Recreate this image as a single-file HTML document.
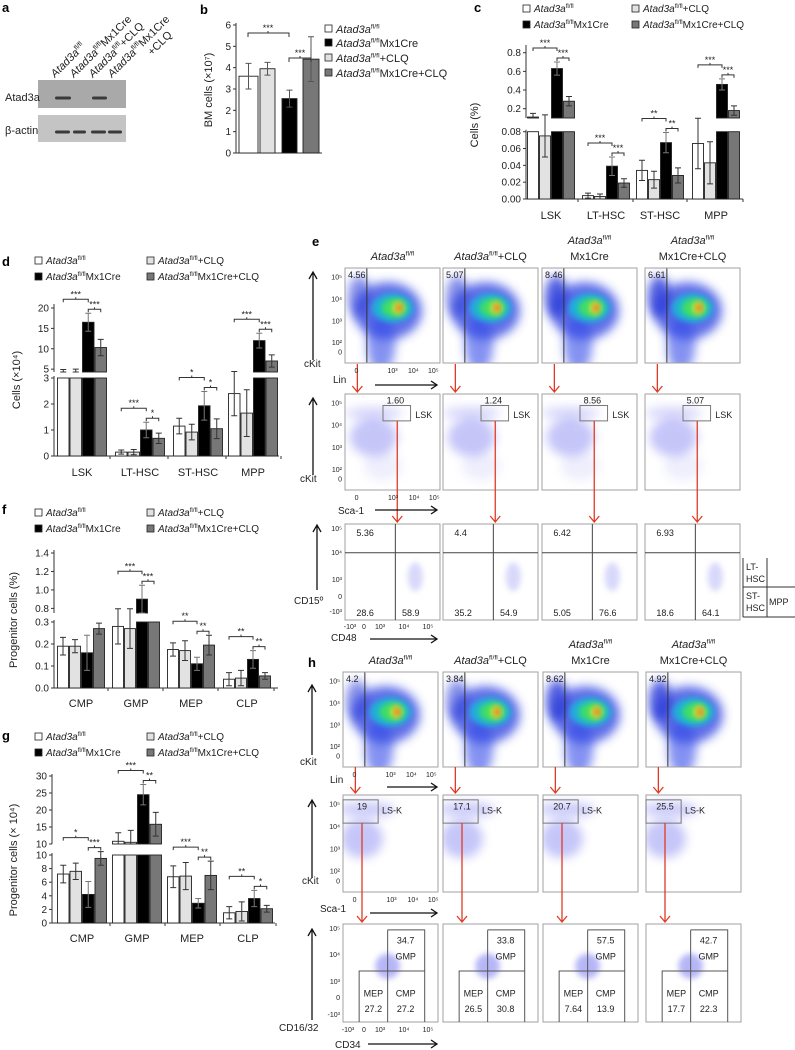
<!DOCTYPE html>
<html><head><meta charset="utf-8"><style>
html,body{margin:0;padding:0;background:#fff;}
svg{display:block;font-family:"Liberation Sans",sans-serif;}
</style></head><body>
<svg id="fig" width="795" height="1050" viewBox="0 0 795 1050">
<defs>
<filter id="blur3" x="-50%" y="-50%" width="200%" height="200%"><feGaussianBlur stdDeviation="3"/></filter>
<filter id="blur5" x="-50%" y="-50%" width="200%" height="200%"><feGaussianBlur stdDeviation="5"/></filter>
</defs>
</svg>
<script>
// ---------------- DATA ----------------
const bCategories = ['fl/fl','fl/fl Mx1Cre','fl/fl +CLQ','fl/fl Mx1Cre+CLQ'];
const bValues = [3.6, 3.95, 2.55, 4.4];
const bErrors = [0.6, 0.3, 0.4, 1.05];
const bYTicks = [0,1,2,3,4,5,6];

const cGroups = ['LSK','LT-HSC','ST-HSC','MPP'];
const cWT = [0.11, 0.004, 0.034, 0.066];
const cWTCLQ = [0.075, 0.003, 0.023, 0.043];
const cKO = [0.63, 0.039, 0.067, 0.46];
const cKOCLQ = [0.28, 0.019, 0.028, 0.18];
const cErrWT = [0.04, 0.003, 0.012, 0.03];
const cErrWTCLQ = [0.025, 0.003, 0.01, 0.025];
const cErrKO = [0.07, 0.011, 0.012, 0.06];
const cErrKOCLQ = [0.05, 0.005, 0.009, 0.05];
const cStars = [['***','***'],['***','***'],['**','**'],['***','***']];
const cTopTicks = [0.2,0.4,0.6,0.8];
const cBotTicks = [0,0.02,0.04,0.06,0.08];

const dGroups = ['LSK','LT-HSC','ST-HSC','MPP'];
const dWT = [4.1, 0.15, 1.15, 2.4];
const dWTCLQ = [3.5, 0.15, 0.92, 1.65];
const dKO = [16.5, 1.0, 1.93, 12.0];
const dKOCLQ = [10.3, 0.68, 1.05, 7.0];
const dErrWT = [0.8, 0.08, 0.3, 0.85];
const dErrWTCLQ = [1.5, 0.1, 0.3, 0.9];
const dErrKO = [2.2, 0.3, 0.55, 1.8];
const dErrKOCLQ = [2.0, 0.2, 0.38, 1.5];
const dStars = [['***','***'],['***','*'],['*','*'],['***','***']];
const dTopTicks = [5,10,15,20];
const dBotTicks = [0,1,2,3];

const fGroups = ['CMP','GMP','MEP','CLP'];
const fWT = [0.19, 0.28, 0.175, 0.04];
const fWTCLQ = [0.19, 0.27, 0.17, 0.045];
const fKO = [0.16, 0.9, 0.11, 0.13];
const fKOCLQ = [0.27, 0.5, 0.195, 0.055];
const fErrWT = [0.04, 0.08, 0.03, 0.03];
const fErrWTCLQ = [0.03, 0.09, 0.045, 0.035];
const fErrKO = [0.08, 0.15, 0.03, 0.04];
const fErrKOCLQ = [0.025, 0, 0.045, 0.015];
const fStars = [['',''],['***','***'],['**','**'],['**','**']];
const fTopTicks = [0.8,1.0,1.2,1.4];
const fBotTicks = [0,0.1,0.2,0.3];

const gGroups = ['CMP','GMP','MEP','CLP'];
const gWT = [7.2, 10.8, 6.8, 1.5];
const gWTCLQ = [7.6, 10.5, 6.9, 1.7];
const gKO = [4.2, 24.5, 2.9, 3.6];
const gKOCLQ = [9.5, 15.8, 7.0, 2.1];
const gErrWT = [1.3, 2.5, 1.6, 0.9];
const gErrWTCLQ = [1.2, 3.5, 2.0, 1.4];
const gErrKO = [1.9, 3.0, 0.7, 1.2];
const gErrKOCLQ = [1.0, 3.5, 2.1, 0.5];
const gStars = [['*','***'],['***','**'],['***','**'],['**','*']];
const gTopTicks = [10,15,20,25,30];
const gBotTicks = [0,2,4,6,8,10];

const eRow1 = ['4.56','5.07','8.46','6.61'];
const eRow2 = ['1.60','1.24','8.56','5.07'];
const eQ1 = ['5.36','4.4','6.42','6.93'];
const eQ3 = ['28.6','35.2','5.05','18.6'];
const eQ4 = ['58.9','54.9','76.6','64.1'];
const hRow1 = ['4.2','3.84','8.62','4.92'];
const hRow2 = ['19','17.1','20.7','25.5'];
const hGMP = ['34.7','33.8','57.5','42.7'];
const hMEP = ['27.2','26.5','7.64','17.7'];
const hCMP = ['27.2','30.8','13.9','22.3'];

// ---------------- HELPERS ----------------
const NS='http://www.w3.org/2000/svg';
const svg=document.getElementById('fig');
function el(tag,attrs,parent){const e=document.createElementNS(NS,tag);for(const k in attrs)e.setAttribute(k,attrs[k]);(parent||svg).appendChild(e);return e;}
function txt(x,y,s,size,anchor,extra){const t=el('text',Object.assign({x:x,y:y,'font-size':size,'text-anchor':anchor||'start',fill:'#222'},extra||{}));t.textContent=s;


return t;}
function atad(x,y,suffix,size,anchor,extra){
  const t=el('text',Object.assign({x:x,y:y,'font-size':size,'text-anchor':anchor||'start',fill:'#222'},extra||{}));
  
  
  const a=el('tspan',{'font-style':'italic'},t);a.textContent='Atad3a';
  const b=el('tspan',{'font-size':size*0.62,dy:-size*0.4},t);b.textContent='fl/fl';
  const c=el('tspan',{dy:size*0.4},t);c.textContent=suffix;
  return t;
}
const FILLS=['#ffffff','#e2e2e2','#000000','#777777'];
function legend(x1,x2,y1,y2,size){
  const items=[[x1,y1,0,''],[x2,y1,1,'+CLQ'],[x1,y2,2,'Mx1Cre'],[x2,y2,3,'Mx1Cre+CLQ']];
  items.forEach(it=>{
    const r=el('rect',{x:it[0],y:it[1]-7,width:7,height:7,fill:FILLS[it[2]],stroke:'#222','stroke-width':0.8});
    
    
    atad(it[0]+11,it[1],it[3],size);
  });
}
function lin(s,v){return s.y0+(v-s.v0)/(s.v1-s.v0)*(s.y1-s.y0);}

function drawChart(cfg,groups,series,errs,stars){
  const g=el('g',{});
  
  
  const bot=cfg.bot, top=cfg.top;
  const ax=el('line',{x1:cfg.axisX,y1:bot.y0,x2:cfg.axisX,y2:bot.y1-2,stroke:'#333','stroke-width':1},g);
  
  
  const xa=el('line',{x1:cfg.axisX,y1:bot.y0,x2:cfg.xEnd,y2:bot.y0,stroke:'#333','stroke-width':1},g);
  
  
  cfg.botTicks.forEach(v=>{const y=lin(bot,v);
    const tk=el('line',{x1:cfg.axisX-3,y1:y,x2:cfg.axisX,y2:y,stroke:'#333'},g);
    
    
    txt(cfg.axisX-5,y+3.5,cfg.fmt(v),10,'end');});
  if(top){
    const ax2=el('line',{x1:cfg.axisX,y1:top.y0,x2:cfg.axisX,y2:top.yEnd,stroke:'#333','stroke-width':1},g);
    
    
    cfg.topTicks.forEach(v=>{const y=lin(top,v);
      const tk=el('line',{x1:cfg.axisX-3,y1:y,x2:cfg.axisX,y2:y,stroke:'#333'},g);
      
      
      txt(cfg.axisX-5,y+3.5,cfg.fmtTop(v),10,'end');});
  }
  const yl=txt(0,0,cfg.ylabel,11,'middle',{transform:`translate(${cfg.ylabelX},${cfg.ylabelY}) rotate(-90)`});
  
  groups.forEach((gname,gi)=>{
    const gx=cfg.groupX[gi];
    txt(gx+2*cfg.barW,cfg.labelY,gname,11,'middle');
    const tk=el('line',{x1:gx+4*cfg.barW+cfg.gapX/2,y1:bot.y0,x2:gx+4*cfg.barW+cfg.gapX/2,y2:bot.y0+3,stroke:'#333'},g);
    
    
    const tops=[];
    for(let s=0;s<series.length;s++){
      const v=series[s][gi], e=errs[s][gi];
      const x=gx+s*cfg.barW;
      const vb=Math.min(v,bot.v1);
      const yb=lin(bot,vb);
      const r=el('rect',{x:x+0.5,y:yb,width:cfg.barW-1,height:bot.y0-yb,fill:FILLS[s],stroke:'#222','stroke-width':0.9},g);
      
      
      let seg=bot;
      if(top && v>bot.v1){
        if(v>top.v0){
          const yt=lin(top,v);
          const r2=el('rect',{x:x+0.5,y:yt,width:cfg.barW-1,height:top.y0-yt,fill:FILLS[s],stroke:'#222','stroke-width':0.9},g);
          
          
        }
        seg=top;
      }
      const cx=x+cfg.barW/2;
      let yv=lin(seg,v), yhi=lin(seg,v+e), ylo=lin(seg,v-e);
      if(seg===top){ylo=Math.min(ylo,top.y0);}
      if(e>0){
        const eb=el('path',{d:`M${cx},${ylo}V${yhi}M${cx-3},${yhi}H${cx+3}M${cx-3},${ylo}H${cx+3}`,stroke:s===2?'#777':'#333','stroke-width':1,fill:'none'},g);
        
        
      }
      tops.push(Math.min(yhi,yv));
    }
    const st=stars[gi];
    const c0=gx+cfg.barW*0.5, c2=gx+cfg.barW*2.5, c3=gx+cfg.barW*3.5;
    const y2=Math.min(tops[2],tops[3])-4;
    const y1=Math.min(y2-10,Math.min(tops[0],tops[1])-6);
    if(st[1]){
      const br=el('path',{d:`M${c2},${y2+3}V${y2}H${c3}V${y2+3}M${(c2+c3)/2},${y2}V${y2-2}`,stroke:'#333',fill:'none','stroke-width':1},g);
      
      
      txt((c2+c3)/2,y2-2,st[1],9,'middle');
    }
    if(st[0]){
      const br=el('path',{d:`M${c0},${y1+3}V${y1}H${c2}V${y1+3}M${(c0+c2)/2},${y1}V${y1-2}`,stroke:'#333',fill:'none','stroke-width':1},g);
      
      
      txt((c0+c2)/2,y1-2,st[0],9,'middle');
    }
  });
}

// ---------------- PANEL A ----------------
txt(2,12,'a',13,'start',{'font-weight':'bold',fill:'#000'});
[[55,''],[74,'Mx1Cre'],[93,'+CLQ'],[112,'Mx1Cre']].forEach(p=>{atad(p[0],78,p[1],11,'start',{transform:`rotate(-45 ${p[0]} 78)`});});
txt(152,56,'+CLQ',11,'start',{transform:'rotate(-45 152 56)'});
const blot1=el('rect',{x:38,y:80,width:88,height:28,fill:'#a9a9a9'});


const blot2=el('rect',{x:38,y:115,width:88,height:27,fill:'#c4c4c4'});


[[55,98,16],[92,98,15],[55,132,15],[73,132,13],[91,132,15],[108,132,14]].forEach(b=>{
  const band=el('rect',{x:b[0],y:b[1]-1.5,width:b[2],height:3,rx:1.5,fill:'#3a3a3a'});
  
  
});
txt(5,101,'Atad3a',11);
txt(5,134,'β-actin',11);

// ---------------- PANEL B ----------------
txt(200,14,'b',13,'start',{'font-weight':'bold',fill:'#000'});
drawChart({name:'chart-b',axisX:236,xEnd:322,groupX:[240],barW:0,gapX:0,bot:{v0:0,v1:6,y0:153,y1:25},top:null,botTicks:bYTicks,fmt:v=>String(v),ylabel:'',ylabelX:0,ylabelY:0,labelY:-50},[],[],[],[]);
(function(){
  const xs=[239,260,282,303], ws=[19,15,15,16];
  const s={v0:0,v1:6,y0:153,y1:25};
  bValues.forEach((v,i)=>{
    const y=lin(s,v);
    const r=el('rect',{x:xs[i],y:y,width:ws[i],height:153-y,fill:FILLS[i],stroke:'#222','stroke-width':0.9});
    
    
    const cx=xs[i]+ws[i]/2, yh=lin(s,v+bErrors[i]), yl=lin(s,v-bErrors[i]);
    const eb=el('path',{d:`M${cx},${yl}V${yh}M${cx-3},${yh}H${cx+3}M${cx-3},${yl}H${cx+3}`,stroke:'#555',fill:'none'});
    
    
  });
  const br1=el('path',{d:'M248,37V33H289V37M268,33V31',stroke:'#333',fill:'none'});
  
  
  txt(268,31,'***',9,'middle');
  const br2=el('path',{d:'M289,62V58H311V62M300,58V56',stroke:'#333',fill:'none'});
  
  
  txt(300,56,'***',9,'middle');
  const yl=txt(0,0,'BM cells (×10⁷)',11,'middle',{transform:'translate(212,90) rotate(-90)'});
  
  [[32,0,''],[46,2,'Mx1Cre'],[61,1,'+CLQ'],[76,3,'Mx1Cre+CLQ']].forEach(it=>{
    const r=el('rect',{x:325,y:it[0]-7,width:7,height:7,fill:FILLS[it[1]],stroke:'#222','stroke-width':0.8});
    
    
    atad(336,it[0]+1,it[2],11);
  });
})();

// ---------------- PANEL C ----------------
txt(474,12,'c',13,'start',{'font-weight':'bold',fill:'#000'});
legend(523,632,12,28,10);
drawChart({name:'chart-c',axisX:526,xEnd:743,groupX:[527,582,636,692],barW:12,gapX:6,
  bot:{v0:0,v1:0.08,y0:199,y1:131.7},top:{v0:0.1,v1:0.8,y0:118,y1:52.7,yEnd:45},
  botTicks:cBotTicks,topTicks:cTopTicks,fmt:v=>v.toFixed(2),fmtTop:v=>v.toFixed(1),
  ylabel:'Cells (%)',ylabelX:478,ylabelY:125,labelY:219},
  cGroups,[cWT,cWTCLQ,cKO,cKOCLQ],[cErrWT,cErrWTCLQ,cErrKO,cErrKOCLQ],cStars);

// ---------------- PANEL D ----------------
txt(2,266,'d',13,'start',{'font-weight':'bold',fill:'#000'});
legend(35,147,264,280,10);
drawChart({name:'chart-d',axisX:54,xEnd:279,groupX:[57,115,173,228],barW:12.5,gapX:6,
  bot:{v0:0,v1:3,y0:456,y1:378},top:{v0:4.3,v1:20,y0:372,y1:308,yEnd:304},
  botTicks:dBotTicks,topTicks:dTopTicks,fmt:v=>String(v),fmtTop:v=>String(v),
  ylabel:'Cells (×10⁴)',ylabelX:20,ylabelY:380,labelY:476},
  dGroups,[dWT,dWTCLQ,dKO,dKOCLQ],[dErrWT,dErrWTCLQ,dErrKO,dErrKOCLQ],dStars);

// ---------------- PANEL F ----------------
txt(2,514,'f',13,'start',{'font-weight':'bold',fill:'#000'});
legend(35,147,516,532,10);
drawChart({name:'chart-f',axisX:54,xEnd:278,groupX:[57,112,167,223],barW:12,gapX:6,
  bot:{v0:0,v1:0.3,y0:688,y1:622},top:{v0:0.75,v1:1.4,y0:613,y1:553,yEnd:550},
  botTicks:fBotTicks,topTicks:fTopTicks,fmt:v=>v.toFixed(1),fmtTop:v=>v.toFixed(1),
  ylabel:'Progenitor cells (%)',ylabelX:17,ylabelY:620,labelY:707},
  fGroups,[fWT,fWTCLQ,fKO,fKOCLQ],[fErrWT,fErrWTCLQ,fErrKO,fErrKOCLQ],fStars);

// ---------------- PANEL G ----------------
txt(2,740,'g',13,'start',{'font-weight':'bold',fill:'#000'});
legend(35,147,740,756,10);
drawChart({name:'chart-g',axisX:52,xEnd:275,groupX:[57,112,167,223],barW:12.5,gapX:6,
  bot:{v0:0,v1:10,y0:923,y1:855},top:{v0:10,v1:30,y0:844,y1:776,yEnd:774},
  botTicks:gBotTicks,topTicks:gTopTicks,fmt:v=>String(v),fmtTop:v=>String(v),
  ylabel:'Progenitor cells (× 10⁴)',ylabelX:17,ylabelY:860,labelY:942},
  gGroups,[gWT,gWTCLQ,gKO,gKOCLQ],[gErrWT,gErrWTCLQ,gErrKO,gErrKOCLQ],gStars);

// ---------------- FLOW PANELS ----------------
function blob(g,cx,cy,rx,ry,fill,op,f){const e=el('ellipse',{cx:cx,cy:cy,rx:rx,ry:ry,fill:fill,opacity:op,filter:'url(#'+(f||'blur3')+')'},g);

return e;}
function frame(x,y,w,h,name){
  const g=el('g',{});
  
  
  const cp=el('clipPath',{id:'cp'+name},g);el('rect',{x:x,y:y,width:w,height:h},cp);
  const inner=el('g',{'clip-path':'url(#cp'+name+')'},g);
  return [g,inner];
}
function border(g,x,y,w,h){const b=el('rect',{x:x,y:y,width:w,height:h,fill:'none',stroke:'#a0a0a0','stroke-width':1},g);

}
function linPlot(x,y,w,h,label,name,strong){
  const [g,i]=frame(x,y,w,h,name);
  blob(i,x+w*0.45,y+h*0.45,w*0.36,h*0.3,'#2a40e0',0.75,'blur5');
  blob(i,x+w*0.38,y+h*0.8,w*0.15,h*0.3,'#3048e8',0.6,'blur5');
  blob(i,x+w*0.15,y+h*0.3,w*0.12,h*0.22,'#2838d8',strong?0.8:0.55,'blur5');
  blob(i,x+w*0.5,y+h*0.42,w*0.22,h*0.15,'#18b8d8',0.9);
  blob(i,x+w*0.52,y+h*0.42,w*0.14,h*0.1,'#40e060',0.95);
  blob(i,x+w*0.56,y+h*0.42,w*0.06,h*0.07,'#e8e030',0.95,'blur3');
  blob(i,x+w*0.57,y+h*0.42,w*0.025,h*0.04,'#f04020',0.9,'blur3');
  const gl=el('line',{x1:x+w*0.23,y1:y,x2:x+w*0.23,y2:y+h,stroke:'#333','stroke-width':1},g);
  
  
  border(g,x,y,w,h);
  txt(x+3,y+10,label,9,'start');
}
function lskPlot(x,y,w,h,label,name){
  const [g,i]=frame(x,y,w,h,name);
  blob(i,x+w*0.3,y+h*0.45,w*0.25,h*0.2,'#7070f0',0.4,'blur5');
  blob(i,x+w*0.3,y+h*0.2,w*0.3,h*0.07,'#8080f0',0.3,'blur5');
  blob(i,x+w*0.4,y+h*0.75,w*0.2,h*0.15,'#9090f0',0.15,'blur5');
  border(g,x,y,w,h);
  const r=el('rect',{x:x+w*0.4,y:y+h*0.12,width:w*0.29,height:h*0.16,fill:'none',stroke:'#777'},g);
  
  
  txt(x+w*0.53,y+h*0.1,label,9,'middle');
  txt(x+w*0.74,y+h*0.25,'LSK',9,'start');
}
function quadPlot(x,y,w,h,q1,q3,q4,name){
  const [g,i]=frame(x,y,w,h,name);
  blob(i,x+w*0.74,y+h*0.55,w*0.08,h*0.15,'#8080f0',0.3,'blur3');
  border(g,x,y,w,h);
  const l=el('path',{d:`M${x+w*0.53},${y}V${y+h}M${x},${y+h*0.3}H${x+w}`,stroke:'#444',fill:'none'},g);
  
  
  txt(x+w*0.12,y+12,q1,9);txt(x+w*0.12,y+h-4,q3,9);txt(x+w*0.6,y+h-4,q4,9);
}
function lskkPlot(x,y,w,h,label,name){
  const [g,i]=frame(x,y,w,h,name);
  blob(i,x+w*0.2,y+h*0.45,w*0.22,h*0.2,'#7070f0',0.4,'blur5');
  blob(i,x+w*0.25,y+h*0.15,w*0.3,h*0.08,'#7070f0',0.35,'blur5');
  border(g,x,y,w,h);
  const r=el('rect',{x:x,y:y+h*0.05,width:w*0.37,height:h*0.24,fill:'none',stroke:'#777'},g);
  
  
  txt(x+w*0.2,y+h*0.15,label,9,'middle');
  txt(x+w*0.41,y+h*0.19,'LS-K',9,'start');
}
function progPlot(x,y,w,h,gmp,mep,cmp,name){
  const [g,i]=frame(x,y,w,h,name);
  blob(i,x+w*0.47,y+h*0.43,w*0.13,h*0.13,'#7070f0',0.5,'blur3');
  border(g,x,y,w,h);
  const p=el('path',{d:`M${x+w*0.47},${y+h*0.06}H${x+w*0.86}V${y+h}M${x+w*0.47},${y+h*0.06}V${y+h}M${x+w*0.17},${y+h}V${y+h*0.48}H${x+w*0.86}`,stroke:'#555',fill:'none'},g);
  
  
  txt(x+w*0.66,y+h*0.2,gmp,9,'middle');txt(x+w*0.66,y+h*0.36,'GMP',9,'middle');
  txt(x+w*0.32,y+h*0.74,'MEP',9,'middle');txt(x+w*0.32,y+h*0.9,mep,9,'middle');
  txt(x+w*0.66,y+h*0.74,'CMP',9,'middle');txt(x+w*0.66,y+h*0.9,cmp,9,'middle');
}
function redArrow(x,y1,y2){
  const l=el('path',{d:`M${x},${y1}V${y2}M${x-5},${y2-6}L${x},${y2}L${x+5},${y2-6}`,stroke:'#e23a22','stroke-width':1.3,fill:'none'});
  
  
}
function axArrow(d,name){const a=el('path',{d:d,stroke:'#111','stroke-width':1.3,fill:'none'});

}
function leftTicks(x,y,h){['10⁵','10⁴','10³','10²','0'].forEach((s,k)=>txt(x-3,y+h*[0.09,0.32,0.55,0.78,0.88][k]+3,s,7,'end'));}
function botTicks(x,y,w){['0','10³','10⁴','10⁵'].forEach((s,k)=>txt(x+w*[0.12,0.5,0.72,0.93][k],y+10,s,7,'middle'));}
function headers(xs,w,y){
  atad(xs[0]+w/2,y,'',11,'middle');
  atad(xs[1]+w/2,y,'+CLQ',11,'middle');
  atad(xs[2]+w/2,y-16,'',11,'middle');txt(xs[2]+w/2,y,'Mx1Cre',11,'middle');
  atad(xs[3]+w/2,y-16,'',11,'middle');txt(xs[3]+w/2,y,'Mx1Cre+CLQ',11,'middle');
}

// Panel e
txt(312,246,'e',13,'start',{'font-weight':'bold',fill:'#000'});
const eX=[345,443,542,645], W=95;
headers(eX,W,260);
eX.forEach((x,k)=>{
  linPlot(x,268,W,95,eRow1[k],'e-lin-plot-'+k,k>=2);
  lskPlot(x,394,W,96,eRow2[k],'e-lsk-plot-'+k);
  quadPlot(x,524,W,96,eQ1[k],eQ3[k],eQ4[k],'e-hsc-plot-'+k);
  redArrow(x+W*0.13,364,392);
  redArrow(x+W*0.55,421,522);
});
leftTicks(345,268,95);botTicks(345,363,95);
leftTicks(345,394,96);botTicks(345,490,96);
axArrow('M313,360V272M309,279L313,272L317,279','y-arrow');
txt(304,367,'cKit',10);txt(333,383,'Lin',10);
axArrow('M375,385H437M431,381L437,385L431,389','x-arrow');
axArrow('M313,475V398M309,405L313,398L317,405','y-arrow');
txt(300,482,'cKit',10);txt(338,514,'Sca-1',10);
axArrow('M375,510H437M431,506L437,510L431,514','x-arrow');
axArrow('M317,590V525M313,532L317,525L321,532','y-arrow');
txt(294,604,'CD15º',10);txt(331,641,'CD48',10);
axArrow('M370,639H437M431,635L437,639L431,643','x-arrow');
['10⁵','10⁴','10³','0','-10³'].forEach((s,k)=>txt(342,[531,555,582,599,614][k],s,7,'end'));
['-10³','0','10³','10⁴','10⁵'].forEach((s,k)=>txt([350,364,380,404,428][k],629,s,7,'middle'));
(function(){
  const t=el('path',{d:'M743,558V617M743,587H795M767,558V617M743,617H795',stroke:'#333',fill:'none'});
  
  
  txt(746,570,'LT-',9);txt(746,582,'HSC',9);
  txt(746,599,'ST-',9);txt(746,611,'HSC',9);
  txt(769,605,'MPP',9);
})();

// Panel h
txt(308,667,'h',13,'start',{'font-weight':'bold',fill:'#000'});
const hX=[343,443,543,646];
headers(hX,W,664);
hX.forEach((x,k)=>{
  linPlot(x,672,W,95,hRow1[k],'h-lin-plot-'+k,k>=2);
  lskkPlot(x,795,W,97,hRow2[k],'h-lsk-plot-'+k);
  progPlot(x,924,W,98,hGMP[k],hMEP[k],hCMP[k],'h-prog-plot-'+k);
  redArrow(x+W*0.13,767,793);
  redArrow(x+W*0.2,823,922);
});
leftTicks(343,672,95);botTicks(343,767,95);
leftTicks(343,795,97);botTicks(343,892,97);
['10⁵','10⁴','10³','0','-10³'].forEach((s,k)=>txt(340,[931,957,984,1000,1017][k],s,7,'end'));
['-10³','0','10³','10⁴','10⁵'].forEach((s,k)=>txt([348,364,380,404,428][k],1032,s,7,'middle'));
axArrow('M312,755V685M308,692L312,685L316,692','y-arrow');
txt(300,765,'cKit',10);txt(330,783,'Lin',10);
axArrow('M387,787H437M431,783L437,787L431,791','x-arrow');
axArrow('M312,878V800M308,807L312,800L316,807','y-arrow');
txt(302,884,'cKit',10);txt(320,912,'Sca-1',10);
axArrow('M370,913H437M431,909L437,913L431,917','x-arrow');
axArrow('M312,1020V929M308,936L312,929L316,936','y-arrow');
txt(279,1031,'CD16/32',10);txt(335,1048,'CD34',10);
axArrow('M368,1044H437M431,1040L437,1044L431,1048','x-arrow');
</script>
</body></html>
